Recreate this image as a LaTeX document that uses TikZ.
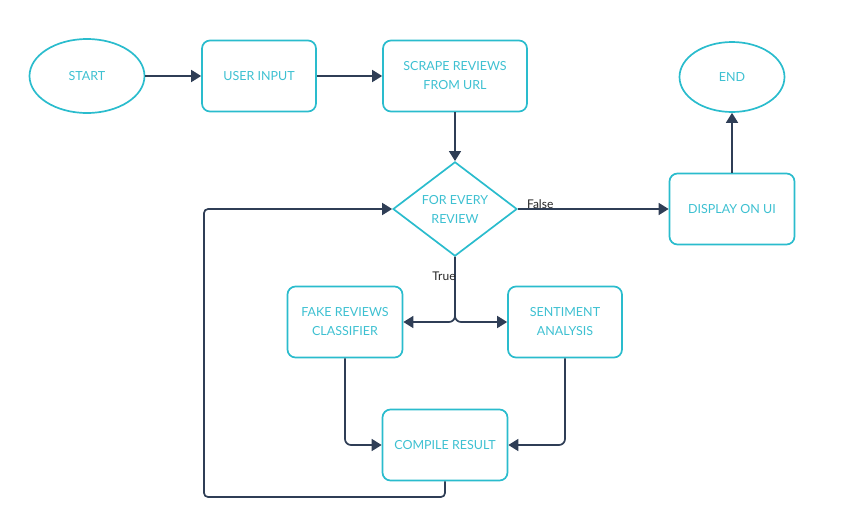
\documentclass[tikz,border=0pt]{standalone}
\usepackage{fontspec}
\setmainfont{Lato}
\usetikzlibrary{arrows.meta,shapes.geometric}
\definecolor{boxline}{HTML}{2ABCCD}
\definecolor{boxtext}{HTML}{3DC0D1}
\definecolor{flowline}{HTML}{2F3E56}
\tikzset{
	blk/.style={draw=boxline, line width=1.7pt, rounded corners=8pt, text=boxtext, align=center, inner sep=0pt, minimum height=71pt, font=\fontsize{12.5}{19}\selectfont},
	term/.style={ellipse, draw=boxline, line width=1.7pt, text=boxtext, inner sep=0pt, font=\fontsize{12.5}{19}\selectfont},
	decide/.style={diamond, draw=boxline, line width=1.7pt, text=boxtext, align=center, inner sep=0pt, minimum width=124pt, minimum height=92pt, font=\fontsize{12.5}{19}\selectfont},
	flow/.style={draw=flowline, line width=1.7pt, -{Triangle[length=10pt,width=12pt]}},
	lbl/.style={text=black!85, font=\fontsize{12}{14}\selectfont, inner sep=1pt}
}
\begin{document}
\begin{tikzpicture}[x=1pt, y=-1pt]
		%%%%% START %%%%%
		\useasboundingbox (0, 0) rectangle (851, 520);
		
		\node[term, minimum width=115pt, minimum height=74pt] (start) at (87, 76) {START};
		\node[blk, minimum width=114pt] (input) at (259, 76) {USER INPUT};
		\node[blk, minimum width=144pt] (scrape) at (455, 76) {SCRAPE REVIEWS\\FROM URL};
		\node[decide] (every) at (455, 209) {FOR EVERY\\REVIEW};
		\node[blk, minimum width=125pt] (display) at (732, 209) {DISPLAY ON UI};
		\node[term, minimum width=105pt, minimum height=70pt] (finish) at (732, 77) {END};
		
		\node[blk, minimum width=115pt] (fake) at (345, 322) {FAKE REVIEWS\\CLASSIFIER};
		\node[blk, minimum width=114pt] (senti) at (565, 322) {SENTIMENT\\ANALYSIS};
		\node[blk, minimum width=125pt] (compile) at (445, 445) {COMPILE RESULT};
		
		\coordinate (back) at (204, 497);
		
		\draw[flow] (start) -- (input);
		\draw[flow] (input) -- (scrape);
		\draw[flow] (scrape) -- (every);
		\draw[flow] (every) -- (display);
		\draw[flow] (display) -- (finish);
		
		\draw[flow, rounded corners=6pt] (every.south) |- (fake.east);
		\draw[flow, rounded corners=6pt] (every.south) |- (senti.west);
		\draw[flow, rounded corners=6pt] (fake.south) |- (compile.west);
		\draw[flow, rounded corners=6pt] (senti.south) |- (compile.east);
		\draw[flow, rounded corners=4pt] (compile.south) |- (back) |- (every.west);
		
		\node[lbl, anchor=south west, xshift=8pt, yshift=-1pt] (falselbl) at (every.east) {False};
		\node[lbl] (truelbl) at (444, 276) {True};
		
		%%%%% END %%%%%
	\end{tikzpicture}
\end{document}
